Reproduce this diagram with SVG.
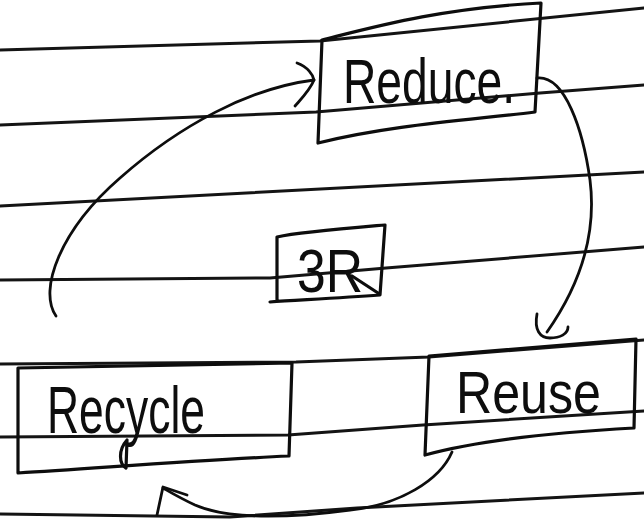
<svg xmlns="http://www.w3.org/2000/svg" width="644" height="529" viewBox="0 0 644 529">
<style>
.rule{fill:none;stroke:#141414;stroke-width:3;stroke-linecap:round;stroke-linejoin:round}
.box{fill:none;stroke:#0d0d0d;stroke-width:3.2;stroke-linecap:round;stroke-linejoin:round}
.con{fill:none;stroke:#0d0d0d;stroke-width:2.8;stroke-linecap:round;stroke-linejoin:round}
.lbl{font-family:"Liberation Sans Narrow","Liberation Sans",Arial,sans-serif;fill:#0d0d0d;font-weight:normal}
</style>
<rect width="644" height="529" fill="#ffffff"/>
<g id="paper-lines">
<path class="rule" d="M0,50 L320,41 L644,8"/>
<path class="rule" d="M0,125 L316,112 L540,93 L644,85"/>
<path class="rule" d="M0,206 L644,172"/>
<path class="rule" d="M0,280 L270,278 L386,268 L644,247"/>
<path class="rule" d="M0,364 L296,362 L429,357 L644,340"/>
<path class="rule" d="M0,437 L288,435 L423,425 L644,411"/>
<path class="rule" d="M0,514 L230,517 L357,508 L644,493"/>
</g>
<g id="node-reduce">
<path class="box" d="M318,143 L322,40 C370,28 440,8 541,3 L535,112 C470,120 390,125 318,143"/>
<text class="lbl" x="343" y="103" font-size="63" textLength="172" lengthAdjust="spacingAndGlyphs">Reduce.</text>
</g>
<g id="node-3r">
<path class="box" d="M277,300 L277,237 C300,232 350,228 385,225 L380,295 C340,298 300,300 270,302"/>
<text class="lbl" x="297" y="292" font-size="62" textLength="66" lengthAdjust="spacingAndGlyphs">3R</text>
<path class="box" d="M352,276 L378,293"/>
</g>
<g id="node-recycle">
<path class="box" d="M18,368 L292,363 L289,456 C200,460 100,468 18,473 Z"/>
<text class="lbl" x="47" y="433" font-size="66" textLength="158" lengthAdjust="spacingAndGlyphs">Recycle</text>
<path class="box" d="M127,440 C118,450 119,464 126,468 L127,440"/>
</g>
<g id="node-reuse">
<path class="box" d="M429,356 L636,339 L634,428 C560,432 480,440 425,455 Z"/>
<text class="lbl" x="456" y="413" font-size="60" textLength="145" lengthAdjust="spacingAndGlyphs">Reuse</text>
</g>
<g id="connectors">
<path class="con" d="M56,316 C38,290 60,230 120,178 C180,125 250,88 314,80"/>
<path class="con" d="M297,63 C308,67 313,75 314,80 C310,90 302,98 295,106"/>
<path class="con" d="M537,78 C565,75 583,130 590,180 C597,235 580,285 547,332"/>
<path class="con" d="M537,314 C534,330 540,338 550,338 C560,338 568,334 568,327"/>
<path class="con" d="M452,452 C440,480 400,505 350,510 C290,518 230,520 195,505 C180,498 170,492 163,488"/>
<path class="con" d="M157,515 L163,487 L187,495"/>
</g>
</svg>
